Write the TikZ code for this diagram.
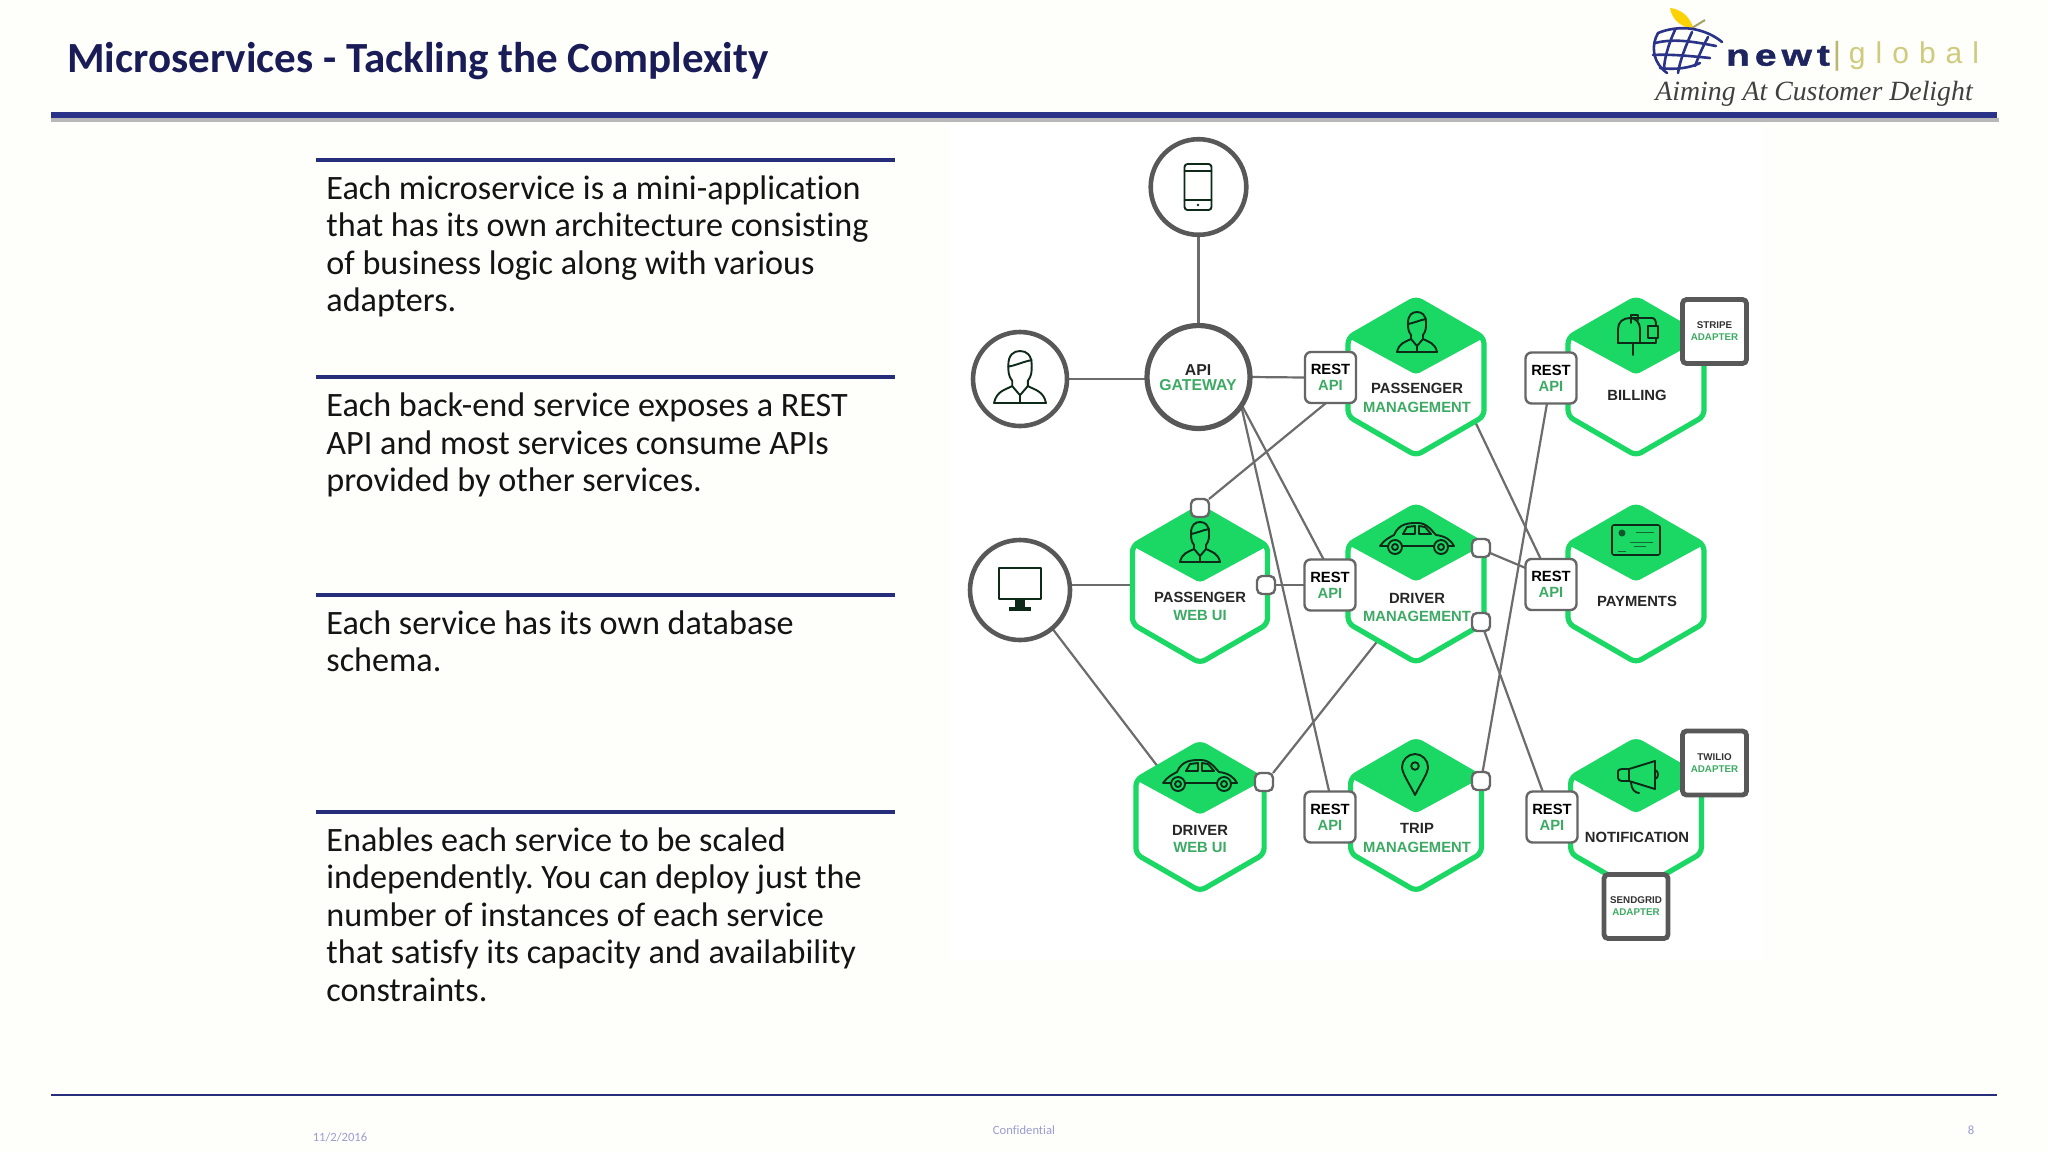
\documentclass[tikz,border=0pt]{standalone}
\usepackage{fontspec}
\setmainfont{Carlito}[RawFeature={-liga}]
\newfontfamily\hv{Liberation Sans}
\newfontfamily\hvw{Liberation Sans}[FakeStretch=1.3,FakeBold=1.5]
\newfontfamily\ts{Liberation Serif}
\usetikzlibrary{shapes.geometric,calc}
\frenchspacing
\pgfdeclarelayer{conn}
\pgfdeclarelayer{bgl}
\pgfsetlayers{bgl,conn,main}
\definecolor{paper}{HTML}{FEFEFA}
\definecolor{navy}{HTML}{2A3388}
\definecolor{rulec}{HTML}{262E7C}
\definecolor{titlec}{HTML}{1A1C58}
\definecolor{hgreen}{HTML}{1AD863}
\definecolor{tgreen}{HTML}{3DAA64}
\definecolor{ringc}{HTML}{585858}
\definecolor{linec}{HTML}{6C6C6C}
\definecolor{boxc}{HTML}{666666}
\definecolor{iconc}{HTML}{0D2A18}
\definecolor{footc}{HTML}{9C9CD0}
\definecolor{olivec}{HTML}{CFCB7E}
\tikzset{
  ring/.style={circle,draw=ringc,line width=2.3pt,fill=white,inner sep=0pt,outer sep=0pt},
  hexn/.style={regular polygon,regular polygon sides=6,shape border rotate=30,draw=hgreen,fill=white,line width=2.6pt,rounded corners=3pt,inner sep=0pt,outer sep=0pt},
  rest/.style={rectangle,draw=boxc,fill=white,line width=1.2pt,rounded corners=3pt,minimum width=25.5pt,minimum height=25.5pt,inner sep=0pt,outer sep=0pt,align=center,font=\hv\bfseries\fontsize{7.4pt}{8pt}\selectfont},
  port/.style={rectangle,draw=boxc,fill=white,line width=1.2pt,rounded corners=2.5pt,minimum size=9pt,inner sep=0pt,outer sep=0pt},
  adapt/.style={rectangle,draw=ringc,fill=white,line width=2.4pt,rounded corners=2pt,minimum size=32pt,inner sep=0pt,outer sep=0pt,align=center,text=black!80,font=\hv\bfseries\fontsize{4.9pt}{6pt}\selectfont},
  lb/.style={inner sep=0pt,text=black!85,font=\hv\bfseries\fontsize{7.4pt}{9pt}\selectfont},
  lg/.style={inner sep=0pt,text=tgreen,font=\hv\bfseries\fontsize{7.4pt}{9pt}\selectfont},
  lbig/.style={inner sep=0pt,font=\hv\bfseries\fontsize{7.9pt}{9pt}\selectfont},
  conn/.style={draw=linec,line width=1.1pt},
  ico/.style={draw=iconc,line width=.95pt,line join=round,line cap=round},
  body/.style={anchor=north west,inner sep=0pt,align=left,text=black!92,font=\fontsize{17.08pt}{18.75pt}\selectfont},
  topr/.style={draw=rulec,line width=2pt},
  foot/.style={inner sep=0pt,text=footc,font=\fontsize{6.3pt}{7pt}\selectfont},
  pics/person/.style={code={
    \draw[ico] (-6,3) .. controls (-9,-1) and (-9,-4) .. (-9,-9) .. controls (-9,-17) and (-5,-20) .. (0,-20) .. controls (5,-20) and (9,-17) .. (9,-9) .. controls (9,-4) and (9,-1) .. (6,3) -- (6,7) .. controls (12,10) and (18,11) .. (20,20) -- (-20,20) .. controls (-18,11) and (-12,10) .. (-6,7) -- cycle;
    \draw[ico] (-9,-8) .. controls (-3,-9) and (3,-12) .. (9,-13);
    \draw[ico] (-6,7) -- (0,14) -- (6,7);
    \draw[ico] (0,14) -- (0,20);
  }},
  pics/car/.style={code={
    \draw[ico] (-37,8) .. controls (-33,2) and (-27,-1) .. (-23,-3) .. controls (-18,-15) and (-8,-15) .. (1,-15) .. controls (10,-15) and (15,-7) .. (19,-3) .. controls (28,-2) and (34,2) .. (37,8) -- (-37,8);
    \draw[ico] (-14,-4) -- (-10,-11) -- (-2,-12) -- (-2,-4) -- cycle;
    \draw[ico] (2,-12) -- (8,-11) -- (14,-4) -- (2,-4) -- cycle;
    \draw[ico,fill=hgreen] (-22,9) circle (7);
    \draw[ico] (-22,9) circle (3);
    \draw[ico,fill=hgreen] (24,9) circle (7);
    \draw[ico] (24,9) circle (3);
  }},
  pics/mobile/.style={code={
    \draw[ico,rounded corners=1.5pt] (-13.5,-23) rectangle (13.5,23);
    \draw[ico] (-13.5,-16) -- (13.5,-16);
    \draw[ico] (-13.5,13) -- (13.5,13);
    \fill[iconc] (0,18) circle (1.3);
  }},
  pics/screen/.style={code={
    \draw[ico,line width=1.4pt] (-21,-21) rectangle (21,10);
    \fill[iconc] (-5,10) rectangle (5,18);
    \fill[iconc] (-11,18) rectangle (11,22);
  }},
  pics/mailbox/.style={code={
    \draw[ico] (-20,8) -- (-20,-6) .. controls (-20,-13) and (-15,-17) .. (-8,-17) -- (14,-17) .. controls (17,-17) and (18,-14) .. (18,-10);
    \draw[ico] (-20,8) -- (18,8) -- (18,3);
    \draw[ico] (-8,-17) .. controls (-2,-17) and (2,-12) .. (2,-6) -- (2,8);
    \draw[ico] (-7,-12) -- (-7,-20) -- (0,-20) -- (0,-15);
    \draw[ico] (10,-9) -- (20,-9) -- (20,3) -- (10,3) -- cycle;
    \draw[ico] (-5,8) -- (-5,20);
  }},
  pics/card/.style={code={
    \draw[ico,line width=.8pt,rounded corners=1pt] (-24,-15) rectangle (24,15);
    \fill[iconc!75!hgreen] (-14,-7) circle (3.5);
    \draw[iconc!65!hgreen,line width=.5pt] (0,-8) -- (18,-8) (-6,2) -- (17,2) (-2,6) -- (10,6) (-18,11) -- (-10,11);
  }},
  pics/locpin/.style={code={
    \draw[ico] (0,20) .. controls (-6,8) and (-13,-2) .. (-13,-8) .. controls (-13,-15) and (-7,-21) .. (0,-21) .. controls (7,-21) and (13,-15) .. (13,-8) .. controls (13,-2) and (6,8) .. (0,20) -- cycle;
    \draw[ico] (0,-9) circle (3.8);
  }},
  pics/horn/.style={code={
    \draw[ico] (-20,-4) -- (-20,3) .. controls (-20,5) and (-18,6) .. (-16,6) -- (-9,6) -- (17,14) -- (17,-14) -- (-9,-6) -- (-16,-6) .. controls (-18,-6) and (-20,-5) .. (-20,-4);
    \draw[ico] (-9,-6) -- (-9,6);
    \draw[ico] (17,-5) .. controls (21,-4) and (21,3) .. (17,4);
    \draw[ico] (-7,7) .. controls (-7,14) and (-3,18) .. (1,18);
  }},
}
\begin{document}
\begin{tikzpicture}[x=.5pt,y=-.5pt]
\useasboundingbox (0,0) rectangle (2048,1152);
\begin{pgfonlayer}{bgl}
  \fill[paper] (0,0) rectangle (2048,1152);
  \fill[white] (950,125) rectangle (1762,960);
  \fill[black!28] (51,118) rectangle (1999,122);
\end{pgfonlayer}

% ---------- slide furniture
\node[anchor=base west,inner sep=0pt,text=titlec,font=\bfseries\fontsize{21.5pt}{24pt}\selectfont] (title) at (67,72.5) {Microservices - Tackling the Complexity};
\fill[navy] (51,112) rectangle (1997,118);
\draw[rulec,line width=.7pt] (51,1095) -- (1997,1095);
\node[foot] (fdate) at (340,1137) {11/2/2016};
\node[foot] (fconf) at (1024,1130) {Confidential};
\node[foot] (fnum) at (1971,1130) {8};

% ---------- text blocks
\draw[topr] (316,159.5) -- (895,159.5);
\draw[topr] (316,376.5) -- (895,376.5);
\draw[topr] (316,594.5) -- (895,594.5);
\draw[topr] (316,811.5) -- (895,811.5);
\node[body] (t1) at (326,175) {Each microservice is a mini-application\\that has its own architecture consisting\\of business logic along with various\\adapters.};
\node[body] (t2) at (326,392.5) {Each back-end service exposes a REST\\API and most services consume APIs\\provided by other services.};
\node[body] (t3) at (326,610) {Each service has its own database\\schema.};
\node[body] (t4) at (326,827) {Enables each service to be scaled\\independently. You can deploy just the\\number of instances of each service\\that satisfy its capacity and availability\\constraints.};

% ---------- logo
\fill[yellow!70!orange] (1670,8) .. controls (1680,9) and (1690,16) .. (1693,28) .. controls (1682,28) and (1672,20) .. (1670,8) -- cycle;
\draw[olivec!80!black,line width=1pt] (1692,28) -- (1705,20);
\begin{scope}[draw=navy,line width=1.3pt,line cap=round]
  \draw (1658,33) .. controls (1680,24) and (1705,28) .. (1722,42);
  \draw (1658,33) .. controls (1651,45) and (1652,62) .. (1667,73);
  \draw (1675,30) .. controls (1668,45) and (1664,60) .. (1664,70);
  \draw (1692,32) .. controls (1686,45) and (1680,60) .. (1678,73);
  \draw (1708,37) .. controls (1702,48) and (1698,58) .. (1695,66);
  \draw (1655,43) .. controls (1675,38) and (1695,42) .. (1716,46);
  \draw (1653,55) .. controls (1670,54) and (1690,56) .. (1710,58);
  \draw (1660,68) .. controls (1675,70) and (1690,68) .. (1700,63);
\end{scope}
\node[inner sep=0pt,text=navy!70!black,font=\hvw\bfseries\fontsize{15pt}{16pt}\selectfont] (logoa) at (1778,56) {n\,e\,w\,t};
\node[inner sep=0pt,text=olivec!90!black,font=\hv\fontsize{16pt}{16pt}\selectfont] (logob) at (1837,56) {|};
\node[inner sep=0pt,text=olivec,font=\hv\fontsize{15pt}{16pt}\selectfont] (logoc) at (1914,56) {g\,\,l\,\,o\,\,b\,\,a\,\,l};
\node[inner sep=0pt,text=black!75,font=\ts\itshape\fontsize{13.9pt}{14pt}\selectfont] (logod) at (1814,93.5) {Aiming At Customer Delight};

% ---------- round clients
\node[ring,minimum size=47.8pt] (phone) at (1198.5,187) {};
\node[ring,minimum size=47pt] (user) at (1020,379) {};
\node[ring,minimum size=51.5pt,line width=2.6pt] (api) at (1198.5,377) {};
\node[ring,minimum size=50pt] (mon) at (1020,590) {};
\pic at (1198,187) {mobile};
\pic[scale=1.3] at (1020,377) {person};
\pic at (1020,589) {screen};
\node[lbig,text=black!85] (apia) at (1198,370) {API};
\node[lbig,text=tgreen] (apib) at (1198,385) {GATEWAY};

% ---------- service hexagons
\newcommand{\hexa}[4]{%
  \node[hexn,minimum size=#4pt] (#1) at (#2,#3) {};
  \begin{scope}[shift={(#2,#3)}]
    \fill[hgreen,rounded corners=2pt] (0,-#4) -- ({.866*#4},{-.5*#4}) -- (0,{-.03*#4}) -- ({-.866*#4},{-.5*#4}) -- cycle;
  \end{scope}}
\hexa{pm}{1416}{377}{78.5}
\hexa{dm}{1416}{584}{78.5}
\hexa{bill}{1636}{377}{78.5}
\hexa{pay}{1636}{584}{78.5}
\hexa{pweb}{1200}{585}{78}
\hexa{dweb}{1200}{817}{74}
\hexa{trip}{1416}{815.5}{75.5}
\hexa{notif}{1636}{815.5}{75.5}

\pic at (1417,332) {person};
\pic at (1200,542) {person};
\pic at (1417,538) {car};
\pic at (1200,775) {car};
\pic at (1638,335) {mailbox};
\pic at (1636,540) {card};
\pic at (1415,775) {locpin};
\pic at (1638,775) {horn};

\node[lb] (l1) at (1417,388) {PASSENGER};
\node[lg] (l2) at (1417,407) {MANAGEMENT};
\node[lb] (l3) at (1637,395) {BILLING};
\node[lb] (l4) at (1417,598) {DRIVER};
\node[lg] (l5) at (1417,616) {MANAGEMENT};
\node[lb] (l6) at (1637,601) {PAYMENTS};
\node[lb] (l7) at (1200,597) {PASSENGER};
\node[lg] (l8) at (1200,615) {WEB UI};
\node[lb] (l9) at (1200,830) {DRIVER};
\node[lg] (l10) at (1200,847) {WEB UI};
\node[lb] (l11) at (1417,828) {TRIP};
\node[lg] (l12) at (1417,847) {MANAGEMENT};
\node[lb] (l13) at (1637,837) {NOTIFICATION};

% ---------- REST API boxes
\node[rest] (r1) at (1330.5,377.5) {REST\\\textcolor{tgreen}{API}};
\node[rest] (rb) at (1551,378) {REST\\\textcolor{tgreen}{API}};
\node[rest] (rd) at (1330,585) {REST\\\textcolor{tgreen}{API}};
\node[rest] (rp) at (1551,584.5) {REST\\\textcolor{tgreen}{API}};
\node[rest] (rt) at (1330,817) {REST\\\textcolor{tgreen}{API}};
\node[rest] (rn) at (1552,817) {REST\\\textcolor{tgreen}{API}};

% ---------- outbound ports
\node[port] (s1) at (1200,508) {};
\node[port] (s2) at (1266,585) {};
\node[port] (s3) at (1481,548) {};
\node[port] (s4) at (1481,622) {};
\node[port] (s5) at (1264,782) {};
\node[port] (s6) at (1481,781) {};

% ---------- adapters
\node[adapt] (stripe) at (1714.5,331.5) {STRIPE\\\textcolor{tgreen}{ADAPTER}};
\node[adapt] (twilio) at (1714.5,763) {TWILIO\\\textcolor{tgreen}{ADAPTER}};
\node[adapt] (sendgrid) at (1636,906.5) {SENDGRID\\\textcolor{tgreen}{ADAPTER}};

% ---------- connectors
\begin{pgfonlayer}{conn}
  \draw[conn] (phone.south) -- (api.north);
  \draw[conn] (user.east) -- (api.west |- user.east);
  \draw[conn] (api.east) -- (r1.west);
  \draw[conn] (s1.45) -- (r1.260);
  \draw[conn] (api.-33) -- (rd.104);
  \draw[conn] (api.-34) -- (rt.92);
  \draw[conn] (pweb.west) -- (pweb.west -| mon.east);
  \draw[conn] (mon.-50) -- (dweb.130);
  \draw[conn] (s2.east) -- (rd.west);
  \draw[conn] (s5.45) -- (dm.236);
  \draw[conn] (pm.-37) -- (rp.112);
  \draw[conn] (s3.-29) -- (rp.147);
  \draw[conn] (s6.80) -- (rb.261);
  \draw[conn] (s4.-70) -- (rn.110);
\end{pgfonlayer}
\end{tikzpicture}
\end{document}
